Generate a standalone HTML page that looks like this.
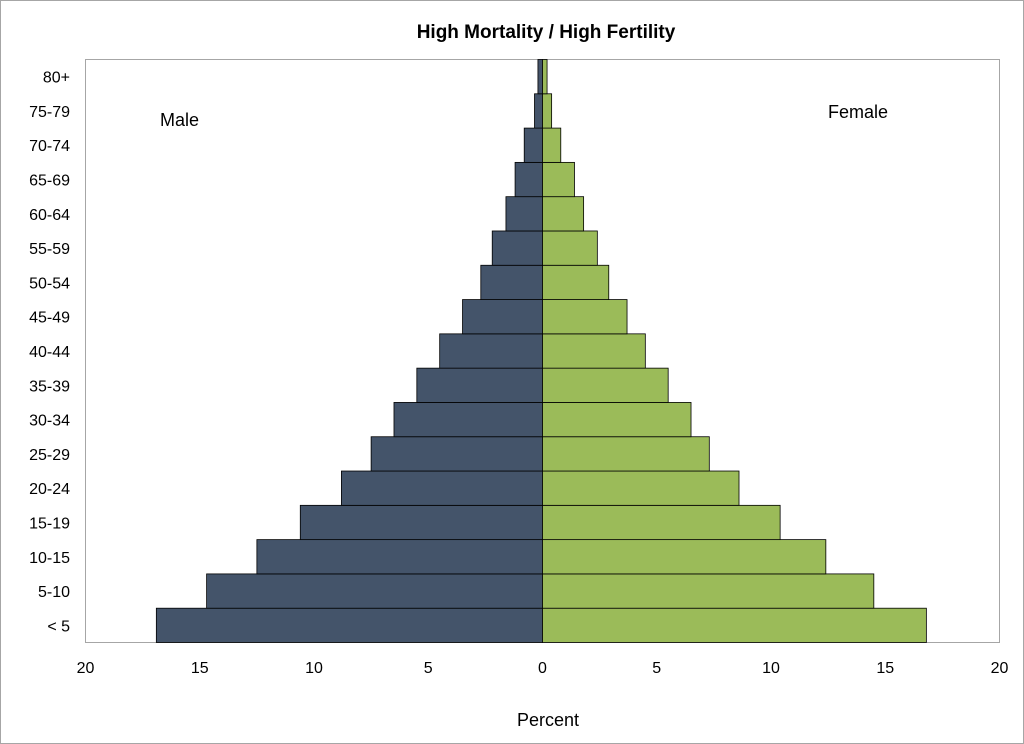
<!DOCTYPE html>
<html><head><meta charset="utf-8"><style>
body{margin:0;background:#fff;}
svg{display:block;font-family:"Liberation Sans",Arial,sans-serif;}
</style></head><body>
<svg id="chart" width="1024" height="744" viewBox="0 0 1024 744">
<rect x="0.5" y="0.5" width="1023" height="743" fill="#fff" stroke="#a6a6a6"/>
<text x="546" y="38" text-anchor="middle" font-size="19" font-weight="bold" fill="#000">High Mortality / High Fertility</text>
<rect x="85.5" y="59.5" width="914" height="583" fill="#fff" stroke="#a6a6a6"/>
<text x="160" y="126" font-size="18" fill="#000">Male</text>
<text x="828" y="118" font-size="18" fill="#000">Female</text>
<text x="548" y="726" text-anchor="middle" font-size="18" fill="#000">Percent</text>
<g id="bars"></g><g id="ylabels"></g><g id="xticks"></g>
</svg>
<script>
const categories=["< 5","5-10","10-15","15-19","20-24","25-29","30-34","35-39","40-44","45-49","50-54","55-59","60-64","65-69","70-74","75-79","80+"];
const maleValues=[16.9,14.7,12.5,10.6,8.8,7.5,6.5,5.5,4.5,3.5,2.7,2.2,1.6,1.2,0.8,0.35,0.2];
const femaleValues=[16.8,14.5,12.4,10.4,8.6,7.3,6.5,5.5,4.5,3.7,2.9,2.4,1.8,1.4,0.8,0.4,0.2];
const tickValues=[-20,-15,-10,-5,0,5,10,15,20];
const tickLabels=["20","15","10","5","0","5","10","15","20"];
const NS="http://www.w3.org/2000/svg";
const x0=85.5,x1=999.5,y0=59.5,y1=642.5;
function xScale(v){return x0+(v+20)/40*(x1-x0);}
const band=(y1-y0)/categories.length;
function yBand(i){return y1-(i+1)*band;}
const bars=document.getElementById('bars'),yl=document.getElementById('ylabels'),xt=document.getElementById('xticks');
function mk(tag,attrs){const e=document.createElementNS(NS,tag);for(const k in attrs)e.setAttribute(k,attrs[k]);return e;}
categories.forEach((c,i)=>{
  const y=yBand(i);
  const m=mk('rect',{x:xScale(-maleValues[i]),y:y,width:xScale(0)-xScale(-maleValues[i]),height:band,fill:'#44546a',stroke:'#000','stroke-width':0.8});
  
  
  bars.appendChild(m);
  const f=mk('rect',{x:xScale(0),y:y,width:xScale(femaleValues[i])-xScale(0),height:band,fill:'#9bbb59',stroke:'#000','stroke-width':0.8});
  
  
  bars.appendChild(f);
  const t=mk('text',{x:70,y:y+band/2+6,'text-anchor':'end','font-size':16,fill:'#000'});
  t.textContent=c;
  
  
  yl.appendChild(t);
});
tickValues.forEach((v,i)=>{
  const t=mk('text',{x:xScale(v),y:673,'text-anchor':'middle','font-size':16,fill:'#000'});
  t.textContent=tickLabels[i];
  
  
  xt.appendChild(t);
});
</script>
</body></html>
